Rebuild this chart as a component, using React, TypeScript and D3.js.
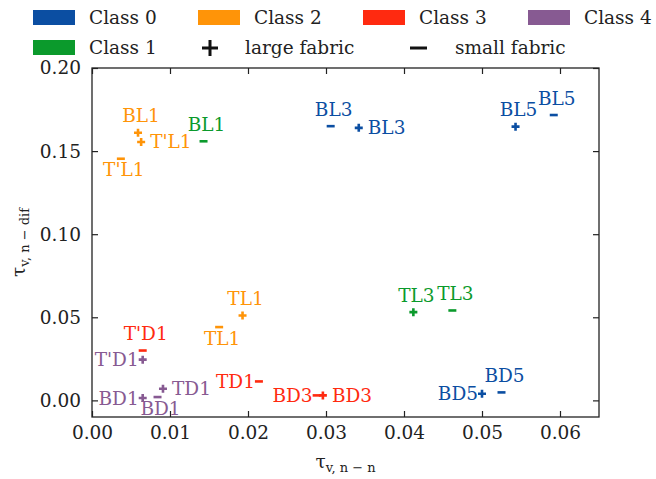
import React, { useRef, useEffect } from 'react';
import * as d3 from 'd3';

// point data
const labels = ['BL1', "T'L1", "T'L1", 'BL1', 'BL3', 'BL3', 'BL5', 'BL5', 'TL1', 'TL1', "T'D1", "T'D1", 'BD1', 'BD1', 'TD1', 'TD1', 'TL3', 'TL3', 'BD3', 'BD3', 'BD5', 'BD5'];
const xVals = [0.0059, 0.0063, 0.0037, 0.0143, 0.0306, 0.0342, 0.0543, 0.0592, 0.0193, 0.0163, 0.0065, 0.0065, 0.0065, 0.0084, 0.0091, 0.0214, 0.0412, 0.0462, 0.0288, 0.0296, 0.05, 0.0525];
const yVals = [0.161, 0.1555, 0.1454, 0.1559, 0.165, 0.164, 0.1647, 0.1717, 0.0511, 0.0441, 0.03, 0.0245, 0.0014, 0.002, 0.007, 0.0114, 0.0531, 0.0541, 0.003, 0.003, 0.004, 0.0048];
const classes = [2, 2, 2, 1, 0, 0, 0, 0, 2, 2, 3, 4, 4, 4, 4, 3, 1, 1, 3, 3, 0, 0];
const fabric = ['large', 'large', 'small', 'small', 'small', 'large', 'large', 'small', 'large', 'small', 'small', 'large', 'large', 'small', 'large', 'small', 'large', 'small', 'small', 'large', 'large', 'small'];
const labelPos = ['above', 'right', 'below', 'above', 'above', 'right', 'above', 'above', 'above', 'below', 'above', 'left', 'left', 'below', 'right', 'left', 'above', 'above', 'left', 'right', 'left', 'above'];

const classColors = ['#0b4ea2', '#0b9a2c', '#ff9408', '#ff2a10', '#875a92'];
const xTicks = [0, 0.01, 0.02, 0.03, 0.04, 0.05, 0.06];
const yTicks = [0, 0.05, 0.1, 0.15, 0.2];

const FONT = 'DejaVu Serif';
const FS = 18.5;

const App = () => {
  const ref = useRef<SVGSVGElement | null>(null);

  useEffect(() => {
    const width = 656;
    const height = 479;
    const margin = { top: 68, right: 57, bottom: 62, left: 92 };
    const w = width - margin.left - margin.right;
    const h = height - margin.top - margin.bottom;

    const root = d3.select(ref.current);
    root.selectAll('*').remove();

    const x = d3.scaleLinear().domain([0, 0.065]).range([0, w]);
    const y = d3.scaleLinear().domain([-0.01, 0.2]).range([h, 0]);

    const g = root.append('g').attr('transform', `translate(${margin.left},${margin.top})`);

    const fmt = d3.format('.2f');
    const styleAxis = (sel: any) => {
      sel.select('.domain').remove();
      sel.selectAll('line').attr('stroke', '#222').attr('stroke-width', 1.2);
      sel.selectAll('text').attr('font-family', FONT).attr('font-size', FS).attr('fill', '#222');
    };

    g.append('g')
      .attr('transform', `translate(0,${h})`)
      .call(d3.axisBottom(x).tickValues(xTicks).tickFormat(fmt as any).tickSizeInner(-6).tickSizeOuter(0).tickPadding(9))
      .call(styleAxis);
    g.append('g')
      .call(d3.axisTop(x).tickValues(xTicks).tickFormat(() => '').tickSizeInner(-6).tickSizeOuter(0))
      .call(styleAxis);
    g.append('g')
      .call(d3.axisLeft(y).tickValues(yTicks).tickFormat(fmt as any).tickSizeInner(-6).tickSizeOuter(0).tickPadding(11))
      .call(styleAxis);
    g.append('g')
      .attr('transform', `translate(${w},0)`)
      .call(d3.axisRight(y).tickValues(yTicks).tickFormat(() => '').tickSizeInner(-6).tickSizeOuter(0))
      .call(styleAxis);

    g.append('rect')
      .attr('width', w)
      .attr('height', h)
      .attr('fill', 'none')
      .attr('stroke', '#222')
      .attr('stroke-width', 1.3);

    // markers
    const idx = d3.range(labels.length);
    const m = 4;
    g.selectAll('.mk')
      .data(idx)
      .enter()
      .append('path')
      .attr('d', (i) => {
        const px = x(xVals[i]);
        const py = y(yVals[i]);
        return fabric[i] === 'large'
          ? `M${px - m},${py}H${px + m}M${px},${py - m}V${py + m}`
          : `M${px - m},${py}H${px + m}`;
      })
      .attr('stroke', (i) => classColors[classes[i]])
      .attr('stroke-width', 2.6)
      .attr('fill', 'none');

    // point labels
    g.selectAll('.lb')
      .data(idx)
      .enter()
      .append('text')
      .attr('x', (i) => {
        const px = x(xVals[i]);
        if (labelPos[i] === 'right') return px + 9;
        if (labelPos[i] === 'left') return px - 4;
        return px + 3;
      })
      .attr('y', (i) => {
        const py = y(yVals[i]);
        if (labelPos[i] === 'above') return py - 10.5;
        if (labelPos[i] === 'below') return py + 17.5;
        return py + 6.5;
      })
      .attr('text-anchor', (i) => (labelPos[i] === 'right' ? 'start' : labelPos[i] === 'left' ? 'end' : 'middle'))
      .attr('font-family', FONT)
      .attr('font-size', FS)
      .attr('fill', (i) => classColors[classes[i]])
      .text((i) => labels[i]);

    // axis labels
    const xl = root.append('text')
      .attr('x', margin.left + w / 2)
      .attr('y', 468)
      .attr('text-anchor', 'middle')
      .attr('font-family', FONT)
      .attr('font-size', FS)
      .attr('fill', '#222');
    xl.append('tspan').text('τ');
    xl.append('tspan').attr('font-size', 13).attr('dy', 4).text('v, n − n');

    const yl = root.append('text')
      .attr('transform', `translate(25,${margin.top + h / 2}) rotate(-90)`)
      .attr('text-anchor', 'middle')
      .attr('font-family', FONT)
      .attr('font-size', FS)
      .attr('fill', '#222');
    yl.append('tspan').text('τ');
    yl.append('tspan').attr('font-size', 13).attr('dy', 4).text('v, n − dif');

    // legend
    const legend = root.append('g').attr('font-family', FONT).attr('font-size', FS).attr('fill', '#222');
    const patches = [
      { c: 0, x: 33, y: 10 },
      { c: 2, x: 198, y: 10 },
      { c: 3, x: 363, y: 10 },
      { c: 4, x: 528, y: 10 },
      { c: 1, x: 33, y: 40 },
    ];
    patches.forEach((p) => {
      legend.append('rect').attr('x', p.x).attr('y', p.y).attr('width', 42).attr('height', 15).attr('fill', classColors[p.c]);
      legend.append('text').attr('x', p.x + 56).attr('y', p.y + 14).text(`Class ${p.c}`);
    });
    legend.append('path').attr('d', 'M202,48H218M210,40V56').attr('stroke', '#111').attr('stroke-width', 3);
    legend.append('text').attr('x', 245).attr('y', 54).text('large fabric');
    legend.append('path').attr('d', 'M410,48H427').attr('stroke', '#111').attr('stroke-width', 3);
    legend.append('text').attr('x', 455).attr('y', 54).text('small fabric');
  }, []);

  return <svg ref={ref} width={656} height={479} style={{ position: 'absolute', left: 0, top: 0 }} />;
};

export default App;
